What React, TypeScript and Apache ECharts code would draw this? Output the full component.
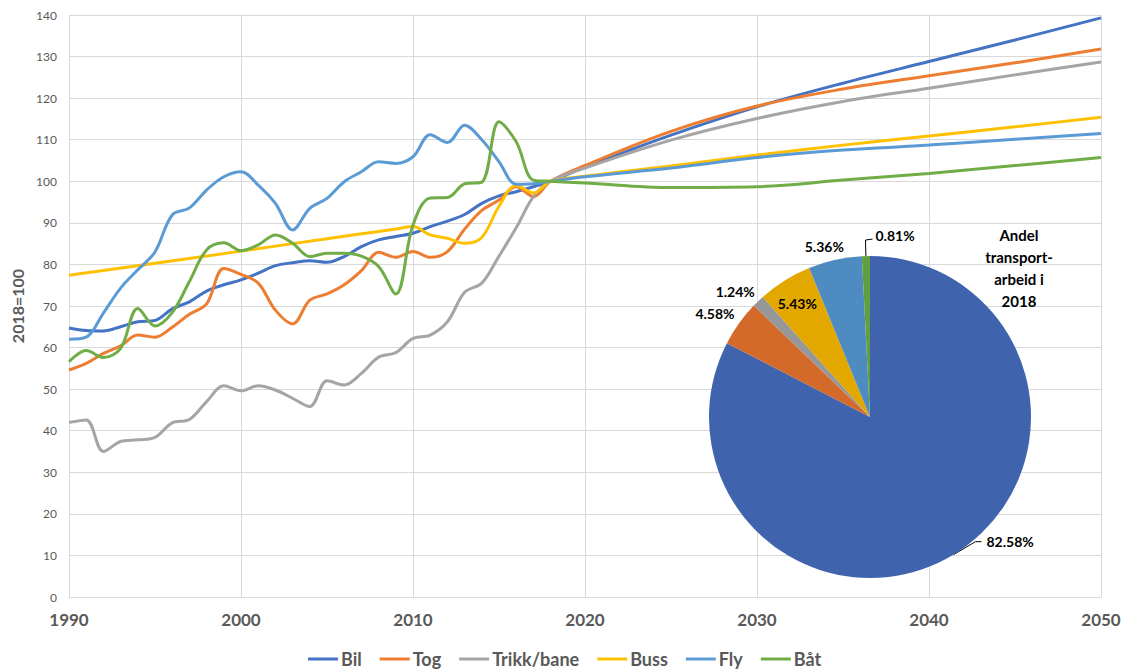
import React, { useEffect, useRef } from "react";
import * as echarts from "echarts";

const histYears = [1990, 1991, 1992, 1993, 1994, 1995, 1996, 1997, 1998, 1999, 2000, 2001, 2002, 2003, 2004, 2005, 2006, 2007, 2008, 2009, 2010, 2011, 2012, 2013, 2014, 2015, 2016, 2017, 2018];
const projYears = [2020, 2025, 2030, 2035, 2040, 2045, 2050];

const bilHist = [64.7, 64.1, 64.0, 65.0, 66.2, 66.5, 69.3, 71.0, 73.6, 75.1, 76.3, 77.9, 79.7, 80.4, 80.9, 80.5, 81.9, 84.3, 85.9, 86.7, 87.5, 89.1, 90.4, 92.0, 94.7, 96.5, 97.5, 98.7, 100];
const bilProj = [103.4, 111.1, 117.9, 123.6, 128.8, 134.0, 139.3];

const togHist = [54.6, 56.2, 58.6, 60.4, 63.0, 62.5, 64.9, 68.0, 70.5, 79.0, 77.6, 75.5, 69.0, 65.7, 71.4, 72.9, 75.1, 78.5, 82.9, 81.7, 83.1, 81.7, 83.1, 88.5, 93.0, 95.5, 98.7, 96.3, 100];
const togProj = [103.8, 112.0, 118.1, 122.2, 125.4, 128.5, 131.8];

const trikkHist = [42.0, 42.6, 35.0, 37.4, 37.8, 38.4, 41.9, 42.7, 47.0, 50.8, 49.6, 50.8, 49.8, 47.8, 45.8, 52.0, 51.0, 53.8, 57.7, 58.8, 62.2, 63.0, 66.2, 73.3, 75.5, 82.0, 88.8, 96.3, 100];
const trikkProj = [103.2, 109.9, 115.1, 119.2, 122.4, 125.6, 128.7];

const bussYears = [1990, 1995, 2000, 2005, 2008, 2009, 2010, 2011, 2012, 2013, 2014, 2015, 2016, 2017, 2018];
const bussHist = [77.4, 80.3, 83.2, 86.2, 87.9, 88.5, 89.1, 87.1, 86.3, 85.1, 86.5, 94.0, 99.0, 97.2, 100];
const bussProj = [101.2, 103.7, 106.3, 108.7, 110.9, 113.1, 115.4];

const flyHist = [62.0, 62.5, 68.3, 74.3, 78.7, 83.0, 91.9, 93.6, 97.9, 101.1, 102.3, 99.1, 94.7, 88.3, 93.5, 95.9, 99.9, 102.3, 104.7, 104.3, 105.9, 111.2, 109.3, 113.5, 110.0, 104.7, 99.3, 99.4, 100];
const flyProj = [101.1, 103.2, 105.7, 107.5, 108.7, 110.1, 111.5];

const batHist = [56.6, 59.3, 57.6, 59.8, 69.4, 65.2, 68.4, 75.9, 83.5, 85.2, 83.3, 84.7, 87.1, 85.1, 81.9, 82.7, 82.7, 82.0, 79.5, 72.9, 89.5, 96.0, 96.1, 99.4, 99.8, 114.3, 109.5, 100.3, 100];
const batProj = [99.6, 98.5, 98.7, 100.3, 101.9, 103.8, 105.7];

const seriesNames = ["Bil", "Tog", "Trikk/bane", "Buss", "Fly", "Båt"];
const lineColors = ["#4472C4", "#ED7D31", "#A5A5A5", "#FFC000", "#5B9BD5", "#70AD47"];

const xTicks = [1990, 2000, 2010, 2020, 2030, 2040, 2050];

const pieNames = ["Bil", "Tog", "Trikk/bane", "Buss", "Fly", "Båt"];
const pieShares = [82.58, 4.58, 1.24, 5.43, 5.36, 0.81];
const pieColors = ["#3F64AD", "#D46A2A", "#979797", "#E2A800", "#4E8BC0", "#62A03F"];
// label line lengths per slice (length, length2, show line)
const pieLineLen = [-15, 17.7, 13, -27, 13.4, 16];
const pieLineLen2 = [35.5, -15, -10.7, -22.9, -16.8, 1];
const pieLineShow = [true, false, false, false, false, true];

const pieTitle = "Andel\ntransport-\narbeid i\n2018";

function build(years: number[], hist: number[], proj: number[]) {
  return years.map((y, i) => [y, hist[i]]).concat(projYears.map((y, i) => [y, proj[i]]));
}

export default function App() {
  const ref = useRef<HTMLDivElement>(null);
  useEffect(() => {
    if (!ref.current) return;
    const chart = echarts.init(ref.current, null, { renderer: "svg" });
    const font = "Lato";
    const datasets = [
      build(histYears, bilHist, bilProj),
      build(histYears, togHist, togProj),
      build(histYears, trikkHist, trikkProj),
      build(bussYears, bussHist, bussProj),
      build(histYears, flyHist, flyProj),
      build(histYears, batHist, batProj),
    ];
    const lineSeries = datasets.map((d, i) => ({
      type: "line",
      name: seriesNames[i],
      data: d,
      smooth: 0.35,
      showSymbol: false,
      symbol: "none",
      lineStyle: { width: 3, color: lineColors[i] },
      itemStyle: { color: lineColors[i] },
      z: 2,
    }));
    chart.setOption({
      animation: false,
      textStyle: { fontFamily: font },
      grid: { left: 69, right: 24, top: 15, bottom: 74, containLabel: false },
      legend: {
        data: seriesNames,
        left: 308,
        top: 650,
        padding: 0,
        icon: "rect",
        itemWidth: 30,
        itemHeight: 3,
        itemGap: 18,
        textStyle: { fontFamily: font, fontSize: 18, fontWeight: "bold", color: "#595959", padding: [0, 0, 0, -2] },
      },
      xAxis: {
        type: "value",
        min: xTicks[0],
        max: xTicks[xTicks.length - 1],
        interval: 10,
        axisLine: { show: true, lineStyle: { color: "#D9D9D9", width: 1 } },
        axisTick: { show: false },
        splitLine: { show: true, lineStyle: { color: "#D9D9D9", width: 1 } },
        axisLabel: {
          margin: 14,
          fontFamily: font,
          fontSize: 17,
          fontWeight: "bold",
          color: "#595959",
          formatter: (v: number) => String(v),
        },
      },
      yAxis: {
        type: "value",
        min: 0,
        max: 140,
        interval: 10,
        name: "2018=100",
        nameLocation: "middle",
        nameRotate: 90,
        nameGap: 38,
        nameTextStyle: { fontFamily: font, fontSize: 16, fontWeight: "bold", color: "#595959" },
        axisLine: { show: false },
        axisTick: { show: false },
        splitLine: { show: true, lineStyle: { color: "#D9D9D9", width: 1 } },
        axisLabel: { margin: 12, fontFamily: font, fontSize: 12, color: "#595959" },
      },
      series: [
        ...lineSeries,
        {
          type: "pie",
          name: "Andel",
          center: [870, 417],
          radius: 161,
          startAngle: 90,
          clockwise: true,
          avoidLabelOverlap: false,
          z: 5,
          label: {
            show: true,
            position: "outside",
            fontFamily: font,
            fontSize: 14,
            fontWeight: "bold",
            color: "#000",
            formatter: (p: any) => Number(p.value).toFixed(2) + "%",
          },
          labelLine: {
            show: true,
            minTurnAngle: 0,
            maxSurfaceAngle: 180,
            lineStyle: { color: "#000", width: 1 },
          },
          labelLayout: (p: any) => {
            const pts = p.labelLinePoints;
            if (!pts || pts.length < 3) return {};
            if (p.dataIndex === 0) {
              const a = pts[0];
              const c = pts[2];
              return { labelLinePoints: [a, [c[0] - 6, c[1]], c] };
            }
            if (p.dataIndex === 5) {
              const a = pts[0];
              const b = pts[1];
              const end = [b[0] + 7, b[1] - 1];
              return {
                x: end[0] + 3,
                y: end[1] - 4,
                align: "left",
                verticalAlign: "middle",
                labelLinePoints: [a, b, end],
              };
            }
            return {};
          },
          emphasis: { disabled: true },
          data: pieNames.map((n, i) => ({
            name: n,
            value: pieShares[i],
            itemStyle: { color: pieColors[i] },
            labelLine: { show: pieLineShow[i], length: pieLineLen[i], length2: pieLineLen2[i] },
          })),
        },
      ],
      graphic: [
        {
          type: "text",
          x: 1019,
          y: 224,
          z: 10,
          style: {
            text: pieTitle,
            align: "center",
            verticalAlign: "top",
            fontFamily: font,
            fontSize: 15,
            fontWeight: "bold",
            lineHeight: 22,
            fill: "#000",
          },
        },
      ],
    });
    return () => chart.dispose();
  }, []);
  return (
    <div
      ref={ref}
      style={{ position: "absolute", left: 0, top: 0, width: 1125, height: 671, background: "#fff" }}
    />
  );
}
